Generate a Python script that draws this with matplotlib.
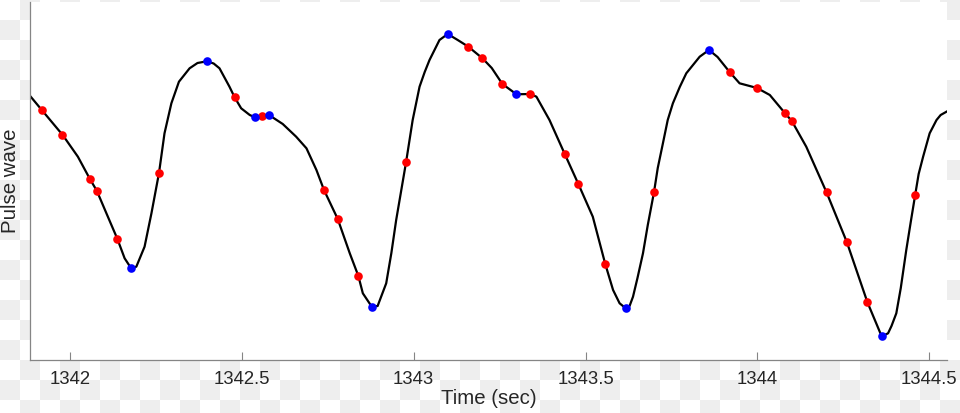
"""plot.py: pulse wave with marked fiducial points."""
import numpy as np
import matplotlib as mpl
mpl.use('Agg')
import matplotlib.pyplot as plt

# Pulse wave trace, time in sec, amplitude in arbitrary units
t_wave = [1341.880, 1341.918, 1341.978, 1341.989, 1342.023, 1342.058, 1342.078,
          1342.106, 1342.138, 1342.159, 1342.178, 1342.193, 1342.217, 1342.237,
          1342.259, 1342.275, 1342.295, 1342.317, 1342.348, 1342.371, 1342.398,
          1342.418, 1342.435, 1342.464, 1342.479, 1342.498, 1342.523, 1342.538,
          1342.560, 1342.579, 1342.619, 1342.658, 1342.688, 1342.717, 1342.739,
          1342.779, 1342.814, 1342.839, 1342.852, 1342.878, 1342.895, 1342.920,
          1342.935, 1342.949, 1342.978, 1342.997, 1343.017, 1343.032, 1343.046,
          1343.075, 1343.099, 1343.128, 1343.159, 1343.200, 1343.227, 1343.258,
          1343.299, 1343.339, 1343.357, 1343.395, 1343.439, 1343.479, 1343.521,
          1343.557, 1343.580, 1343.599, 1343.617, 1343.628, 1343.638, 1343.651,
          1343.667, 1343.681, 1343.699, 1343.710, 1343.725, 1343.739, 1343.754,
          1343.774, 1343.793, 1343.832, 1343.859, 1343.884, 1343.919, 1343.948,
          1343.999, 1344.036, 1344.079, 1344.100, 1344.142, 1344.201, 1344.260,
          1344.320, 1344.361, 1344.370, 1344.380, 1344.390, 1344.404, 1344.417,
          1344.433, 1344.446, 1344.459, 1344.469, 1344.482, 1344.501, 1344.521,
          1344.533, 1344.550]
y_wave = [265.7, 250.0, 225.3, 220.0, 203.3, 181.0, 169.3,
          146.7, 121.0, 101.7, 91.7, 93.3, 113.3, 146.7,
          187.0, 226.7, 256.7, 278.3, 291.7, 297.0, 298.7,
          296.5, 291.7, 273.3, 262.7, 251.7, 245.0, 242.7,
          244.3, 245.0, 236.0, 223.3, 211.7, 190.0, 170.0,
          141.0, 106.7, 84.0, 66.7, 53.3, 54.0, 76.7,
          107.0, 140.0, 198.3, 240.0, 273.3, 288.0, 300.0,
          320.0, 326.0, 320.0, 313.3, 301.7, 292.0, 276.0,
          265.7, 266.0, 263.3, 240.0, 206.3, 176.0, 143.3,
          96.3, 70.0, 56.7, 51.7, 54.0, 63.3, 82.0,
          106.7, 135.0, 167.7, 192.0, 216.7, 240.0, 256.7,
          273.0, 286.7, 303.3, 310.0, 303.0, 288.0, 276.7,
          272.0, 265.0, 247.3, 239.0, 213.3, 167.7, 118.0,
          57.7, 24.0, 25.0, 26.7, 34.0, 46.7, 72.0,
          110.0, 138.0, 165.3, 186.0, 203.3, 226.7, 240.0,
          245.0, 248.3]

# Red marks
t_red = [1341.918, 1341.978, 1342.058, 1342.078, 1342.138, 1342.259, 1342.479,
         1342.560, 1342.739, 1342.779, 1342.839, 1342.978, 1343.159, 1343.200,
         1343.258, 1343.339, 1343.439, 1343.479, 1343.557, 1343.699, 1343.919,
         1343.999, 1344.079, 1344.100, 1344.201, 1344.260, 1344.320, 1344.459]
y_red = [250.0, 225.3, 181.0, 169.3, 121.0, 187.0, 262.7,
         244.3, 170.0, 141.0, 84.0, 198.3, 313.3, 301.7,
         276.0, 266.0, 206.3, 176.0, 96.3, 167.7, 288.0,
         272.0, 247.3, 239.0, 167.7, 118.0, 57.7, 165.3]

# Blue marks (peaks, troughs, notches)
t_blue = [1342.178, 1342.398, 1342.538, 1342.579, 1342.878, 1343.099,
          1343.299, 1343.617, 1343.859, 1344.361]
y_blue = [91.7, 298.7, 242.7, 245.0, 53.3, 326.0,
          265.7, 51.7, 310.0, 24.0]

x_ticks = [1342, 1342.5, 1343, 1343.5, 1344, 1344.5]
x_ticklabels = ['1342', '1342.5', '1343', '1343.5', '1344', '1344.5']

W, H = 960, 413
plt.rcParams['font.family'] = ['Liberation Sans', 'DejaVu Sans']

fig = plt.figure(figsize=(W/100., H/100.), dpi=100)

# checkered backdrop, as in the reference picture
bg = fig.add_axes([0, 0, 1, 1], zorder=0)
ii, jj = np.meshgrid(np.arange(48), np.arange(21))
bg.imshow((ii + jj) % 2, cmap=mpl.colors.ListedColormap(['#ffffff', '#eeeeee']),
          extent=(0, 960, 420, 0), interpolation='nearest', aspect='auto')
bg.set_xlim(0, W)
bg.set_ylim(H, 0)
bg.axis('off')

ax = fig.add_axes([30/W, 1 - 360./H, (946.7 - 30)/W, 358./H], zorder=1)
ax.set_facecolor('white')
ax.plot(t_wave, y_wave, '-', color='black', lw=1.6, zorder=2)
ax.plot(t_red, y_red, 'o', color='#ff0000', ms=6.2, mec='none', zorder=3)
ax.plot(t_blue, y_blue, 'o', color='#0000ff', ms=6.2, mec='none', zorder=4)

ax.set_xlim(1341.8837, 1344.5506)
ax.set_ylim(0, 358)
ax.set_xticks(x_ticks)
ax.set_xticklabels(x_ticklabels)
ax.set_yticks([])
for side in ('top', 'right'):
    ax.spines[side].set_visible(False)
for side in ('left', 'bottom'):
    ax.spines[side].set_color('#858585')
    ax.spines[side].set_linewidth(0.9)
ax.tick_params(axis='x', direction='in', length=6, width=0.8,
               color='#858585', labelsize=13.3, labelcolor='#262626', pad=8)
ax.set_xlabel('Time (sec)', fontsize=14.7, color='#262626', labelpad=1)
ax.set_ylabel('Pulse wave', fontsize=14.7, color='#262626', labelpad=7)

fig.savefig('out.png', dpi=100)
